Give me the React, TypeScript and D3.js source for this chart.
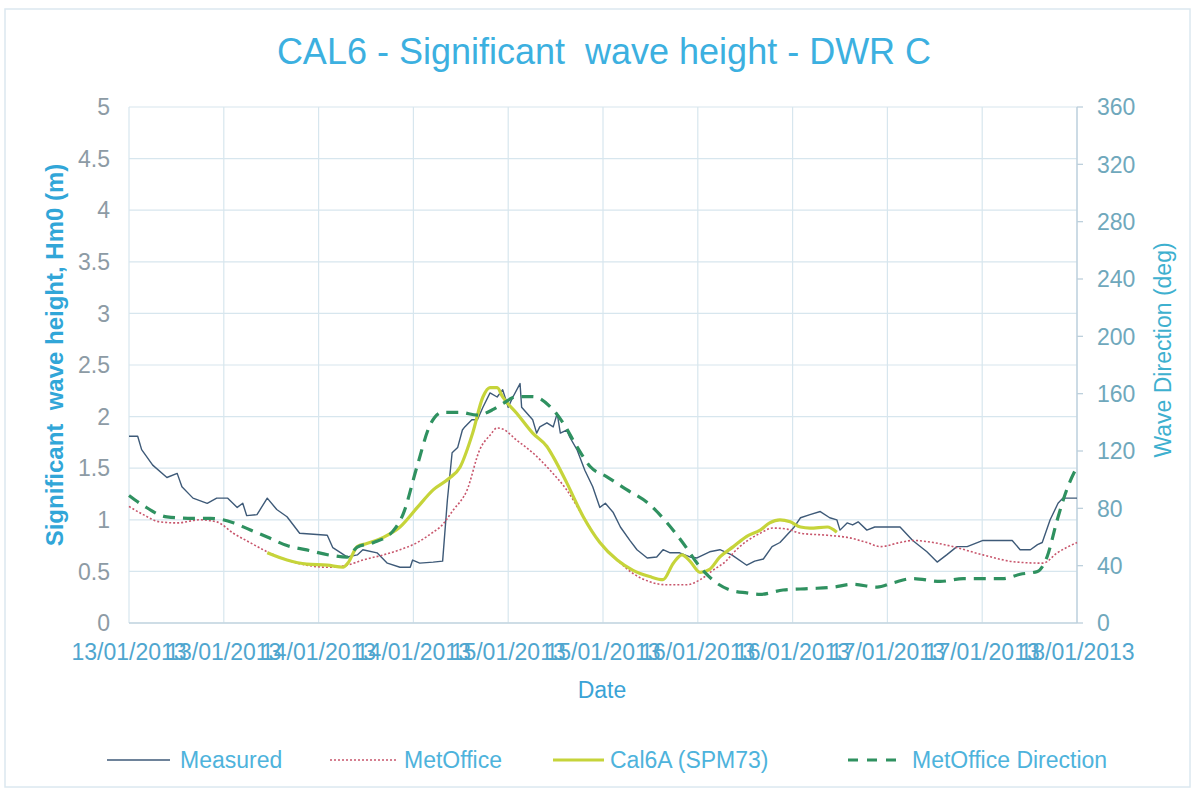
import React from "react";
import * as d3 from "d3";

// hours since 13/01/2013 00:00 -> value
const measured: [number, number][] = [
  [0, 1.81], [1.1, 1.81], [1.6, 1.68], [3.0, 1.53], [4.8, 1.41], [6.1, 1.45], [6.7, 1.32],
  [8.1, 1.21], [9.9, 1.16], [11.1, 1.21], [12.5, 1.21], [13.7, 1.12], [14.4, 1.16], [14.9, 1.04],
  [16.2, 1.05], [17.5, 1.21], [18.7, 1.1], [20, 1.03], [21.6, 0.87], [25.1, 0.85], [25.8, 0.73],
  [27.6, 0.64], [28.9, 0.66], [29.6, 0.71], [31.4, 0.68], [32.7, 0.58], [34.3, 0.54], [35.6, 0.54],
  [35.9, 0.61], [36.8, 0.58], [38.5, 0.59], [39.7, 0.6], [40.3, 1.19], [40.9, 1.65], [41.6, 1.7],
  [42.2, 1.87], [42.5, 1.9], [43.4, 1.97], [44.1, 1.97], [44.8, 2.09], [45.7, 2.23], [46.6, 2.19],
  [47.3, 2.26], [48, 2.09], [48.6, 2.19], [49.5, 2.32], [49.7, 2.09], [50.4, 2.03], [51.1, 1.97],
  [51.6, 1.84], [52, 1.9], [52.9, 1.94], [53.7, 1.9], [54.2, 2.03], [54.6, 1.84], [55.4, 1.87],
  [55.8, 1.8], [56.7, 1.68], [57.7, 1.48], [58.7, 1.32], [59.6, 1.12], [60.3, 1.16], [61.3, 1.07],
  [62.2, 0.93], [63.4, 0.8], [64.3, 0.71], [65.6, 0.63], [66.8, 0.64], [67.6, 0.71], [68.5, 0.68],
  [69.7, 0.68], [71, 0.64], [71.9, 0.63], [73.5, 0.69], [74.8, 0.71], [76.3, 0.66], [78.2, 0.56],
  [79.2, 0.6], [80.3, 0.62], [81.4, 0.74], [82.4, 0.78], [84.1, 0.92], [85, 1.02], [86.2, 1.05],
  [87.5, 1.08], [88.7, 1.02], [89.6, 1.0], [90, 0.9], [90.9, 0.97], [91.6, 0.95], [92.3, 0.98],
  [93.4, 0.9], [94.4, 0.93], [97.6, 0.93], [99.2, 0.8], [101, 0.69], [102.3, 0.59], [103.5, 0.66],
  [104.8, 0.74], [106.1, 0.74], [108.1, 0.8], [111.8, 0.8], [112.8, 0.71], [114.1, 0.71],
  [115, 0.76], [115.6, 0.78], [116.6, 1.0], [117.6, 1.16], [118.2, 1.21], [120, 1.21],
];

const metOffice: [number, number][] = [
  [0, 1.13], [1.8, 1.05], [3.9, 0.98], [6.1, 0.97], [9, 1.0], [11.1, 0.98], [13.2, 0.87],
  [15.3, 0.78], [17.5, 0.69], [20, 0.61], [22.5, 0.56], [25.1, 0.54], [27.6, 0.56], [29.6, 0.61],
  [32.2, 0.66], [34.3, 0.71], [36.5, 0.78], [38.5, 0.88], [39.4, 0.93], [41, 1.09], [42.8, 1.29],
  [44.4, 1.68], [45.7, 1.82], [46.6, 1.89], [47.3, 1.88], [49.1, 1.77], [51.1, 1.65], [53.3, 1.48],
  [55.4, 1.29], [57.5, 1.03], [59.6, 0.78], [61.8, 0.61], [63.8, 0.48], [65.9, 0.4], [68.1, 0.37],
  [70.6, 0.37], [72.3, 0.42], [73.9, 0.51], [75.7, 0.61], [76.5, 0.68], [79.9, 0.87], [81.5, 0.92],
  [83.3, 0.91], [85, 0.87], [88.4, 0.85], [90.9, 0.83], [93.4, 0.78], [95.1, 0.74], [97.6, 0.78],
  [99.2, 0.8], [101.8, 0.78], [104.3, 0.74], [108.1, 0.66], [112.4, 0.59], [115.7, 0.58],
  [117.5, 0.68], [120, 0.78],
];

const cal6a: [number, number][] = [
  [17.5, 0.68], [20, 0.61], [22.5, 0.57], [25.1, 0.56], [27.1, 0.54], [27.7, 0.58], [28.9, 0.74],
  [30.1, 0.77], [32.2, 0.83], [34.3, 0.93], [36.5, 1.12], [38.5, 1.29], [40.5, 1.4], [41.9, 1.51],
  [43.5, 1.84], [44.8, 2.19], [45.7, 2.28], [46.6, 2.28], [47.3, 2.19], [49.1, 2.03], [51.1, 1.84],
  [52.9, 1.71], [53.7, 1.61], [55.4, 1.36], [57.5, 1.03], [59.6, 0.78], [61.8, 0.61], [63.8, 0.51],
  [65.9, 0.45], [67.6, 0.42], [68.9, 0.58], [70, 0.66], [71, 0.6], [72.3, 0.49], [73.5, 0.52],
  [74.8, 0.64], [76.5, 0.74], [78.2, 0.84], [79.9, 0.9], [81.1, 0.97], [82.4, 1.0], [83.7, 0.98],
  [85, 0.93], [86.2, 0.92], [88.4, 0.93], [89.6, 0.88],
];

// degrees, right axis
const metOfficeDir: [number, number][] = [
  [0, 89], [1.8, 82], [4.8, 74], [8.1, 73], [10.3, 73], [13.2, 70], [15.3, 65], [17.5, 60],
  [20, 54], [22.5, 51], [25.8, 47], [27.6, 46], [28.9, 53], [30.9, 56], [33.4, 64], [34.7, 76],
  [36.5, 110], [38.1, 138], [39.7, 147], [41.9, 147], [44.1, 145], [46.1, 149], [47.3, 153],
  [49.1, 158], [51.1, 158], [53.3, 151], [54.9, 140], [56.7, 123], [58.4, 109], [60.5, 102],
  [63, 93], [65.6, 84], [68.1, 70], [70.1, 56], [72.3, 39], [73.9, 30], [76.1, 23], [78.2, 21],
  [79.9, 20], [82.8, 23], [86.2, 24], [89.1, 25], [91.6, 27], [94.7, 25], [96.7, 28], [99.2, 31],
  [102.7, 29], [105.6, 31], [110.6, 31], [112.8, 34], [115, 36], [116.2, 46], [117.5, 72],
  [118.7, 93], [120, 109],
];

const leftTicks = [0, 0.5, 1, 1.5, 2, 2.5, 3, 3.5, 4, 4.5, 5];
const rightTicks = [0, 40, 80, 120, 160, 200, 240, 280, 320, 360];

const T0 = new Date(2013, 0, 13).getTime();
const toDate = (h: number) => new Date(T0 + h * 3600 * 1000);

const W = 1203;
const H = 790;
const P = { left: 129, right: 1077, top: 107, bottom: 623 };
const FONT = "'Liberation Sans', Arial, sans-serif";

const GRID = "#d7e6ee";
const C_MEAS = "#3e5a78";
const C_MET = "#c8566c";
const C_CAL = "#c6d43a";
const C_DIR = "#2f9160";

export default function App() {
  const x = d3.scaleTime().domain([toDate(0), toDate(120)]).range([P.left, P.right]);
  const y = d3.scaleLinear().domain([0, 5]).range([P.bottom, P.top]);
  const y2 = d3.scaleLinear().domain([0, 360]).range([P.bottom, P.top]);

  const line = d3
    .line<[number, number]>()
    .x((d) => x(toDate(d[0])))
    .y((d) => y(d[1]));
  const line2 = d3
    .line<[number, number]>()
    .x((d) => x(toDate(d[0])))
    .y((d) => y2(d[1]))
    .curve(d3.curveMonotoneX);
  const smooth = d3
    .line<[number, number]>()
    .x((d) => x(toDate(d[0])))
    .y((d) => y(d[1]))
    .curve(d3.curveMonotoneX);

  // 12-hourly ticks, Excel-style labels that run into each other
  const xTicks = x.ticks(d3.timeHour.every(12)!);
  const fmt = d3.timeFormat("%d/%m/%Y");

  const legend = [
    { label: "Measured", x1: 107, x2: 170, tx: 180, color: C_MEAS, w: 1.5, dash: undefined },
    { label: "MetOffice", x1: 330, x2: 396, tx: 404, color: C_MET, w: 1.5, dash: "2 2" },
    { label: "Cal6A (SPM73)", x1: 553, x2: 604, tx: 610, color: C_CAL, w: 3, dash: undefined },
    { label: "MetOffice Direction", x1: 848, x2: 898, tx: 912, color: C_DIR, w: 3, dash: "10 9" },
  ];

  return (
    <svg
      width={W}
      height={H}
      style={{ position: "absolute", left: 0, top: 0, background: "#fff" }}
      fontFamily={FONT}
    >
      <rect x={5} y={9} width={1185} height={778} fill="#fff" stroke="#dbe8f0" strokeWidth={1.5} />

      <text x={604} y={64} textAnchor="middle" fontSize={36} fill="#3cb0e0" style={{ whiteSpace: "pre" }}>
        CAL6 - Significant  wave height - DWR C
      </text>

      {/* grid */}
      {leftTicks.map((t) => (
        <line key={t} x1={P.left} x2={P.right} y1={y(t)} y2={y(t)} stroke={GRID} strokeWidth={1.2} />
      ))}
      {xTicks.map((t, i) => (
        <line key={i} x1={x(t)} x2={x(t)} y1={P.top} y2={P.bottom} stroke={GRID} strokeWidth={1.2} />
      ))}
      <line x1={P.left} x2={P.right} y1={P.bottom} y2={P.bottom} stroke="#c4d6e0" strokeWidth={1.3} />
      <line x1={P.right} x2={P.right} y1={P.top} y2={P.bottom} stroke="#bdd0dc" strokeWidth={1.3} />
      {rightTicks.map((t) => (
        <line key={t} x1={P.right} x2={P.right + 6} y1={y2(t)} y2={y2(t)} stroke="#bdd0dc" strokeWidth={1.3} />
      ))}

      {/* left ticks */}
      {leftTicks.map((t) => (
        <text key={t} x={110} y={y(t)} dy="0.36em" textAnchor="end" fontSize={23} fill="#8d9ba5">
          {t}
        </text>
      ))}
      {/* right ticks */}
      {rightTicks.map((t) => (
        <text key={t} x={1097} y={y2(t)} dy="0.36em" textAnchor="start" fontSize={23} fill="#6fa8bc">
          {t}
        </text>
      ))}
      {/* x ticks */}
      {xTicks.map((t, i) => (
        <text key={i} x={x(t)} y={660} textAnchor="middle" fontSize={23} fill="#4fa6cf">
          {fmt(t)}
        </text>
      ))}

      <text x={602} y={698} textAnchor="middle" fontSize={23} fill="#3aa3d6">
        Date
      </text>
      <text
        transform="translate(63,355) rotate(-90)"
        textAnchor="middle"
        fontSize={24}
        fontWeight="bold"
        fill="#31a6d8"
        style={{ whiteSpace: "pre" }}
      >
        Significant  wave height, Hm0 (m)
      </text>
      <text
        transform="translate(1171,350) rotate(-90)"
        textAnchor="middle"
        fontSize={23}
        fill="#3eb0cf"
      >
        Wave Direction (deg)
      </text>

      {/* series */}
      <path d={line(measured) ?? ""} fill="none" stroke={C_MEAS} strokeWidth={1.4} strokeLinejoin="round" />
      <path d={smooth(metOffice) ?? ""} fill="none" stroke={C_MET} strokeWidth={1.6} strokeDasharray="2 2" />
      <path d={smooth(cal6a) ?? ""} fill="none" stroke={C_CAL} strokeWidth={3.2} strokeLinejoin="round" />
      <path d={line2(metOfficeDir) ?? ""} fill="none" stroke={C_DIR} strokeWidth={3.2} strokeDasharray="12 8" />

      {/* legend */}
      {legend.map((l) => (
        <g key={l.label}>
          <line x1={l.x1} x2={l.x2} y1={760} y2={760} stroke={l.color} strokeWidth={l.w} strokeDasharray={l.dash} />
          <text x={l.tx} y={760} dy="0.36em" fontSize={23} fill="#4eb3dc">
            {l.label}
          </text>
        </g>
      ))}
    </svg>
  );
}
